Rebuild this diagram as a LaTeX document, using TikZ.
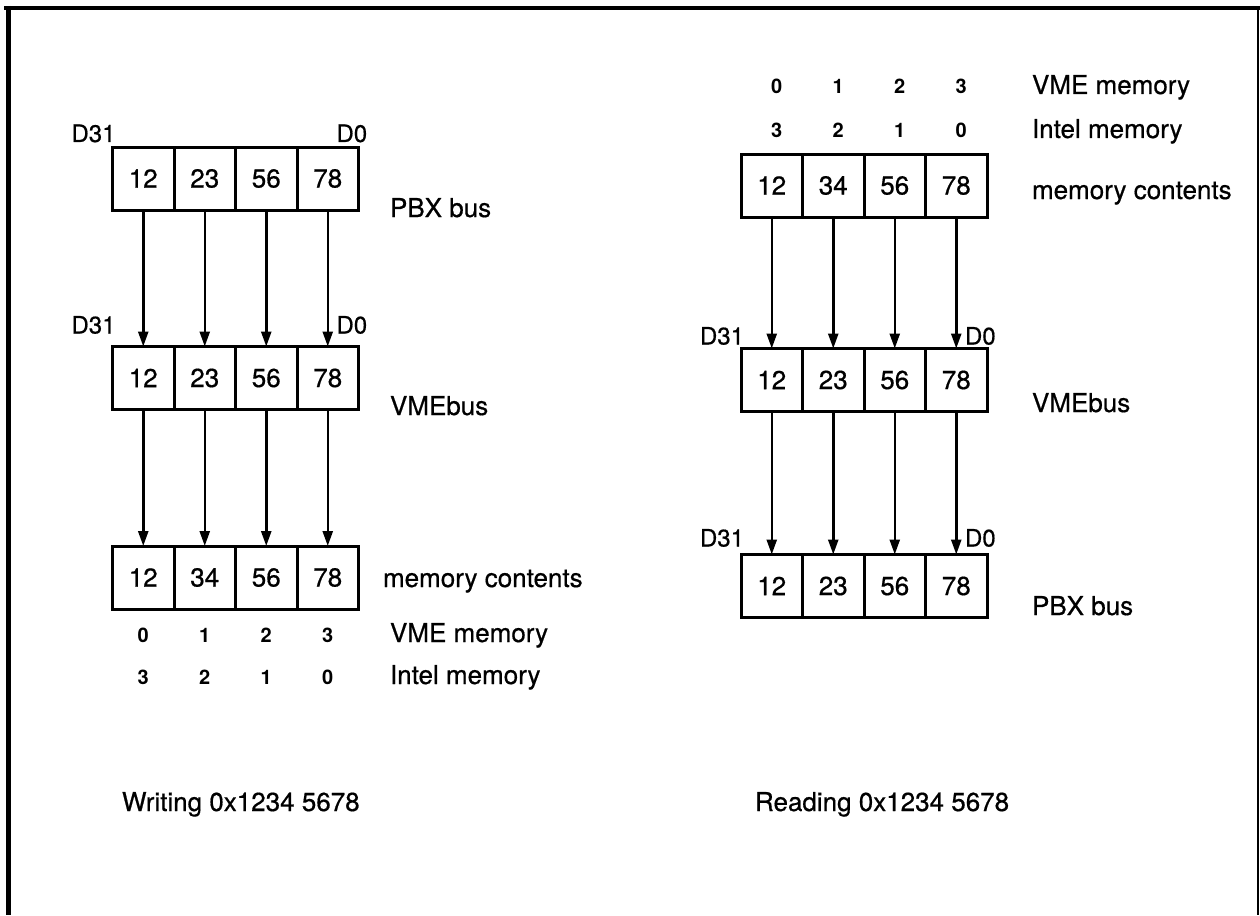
\documentclass[tikz,border=0pt]{standalone}
\usepackage{fontspec}
\setmainfont{TeX Gyre Heros}[UprightFeatures={FakeBold=0.6}]
\usetikzlibrary{positioning,arrows.meta}

\begin{document}
\begin{tikzpicture}[x=1pt, y=-1pt,
    every node/.style={font=\fontsize{26}{30}\selectfont, inner sep=0pt, outer sep=0pt},
    cell/.style={draw, line width=3pt, minimum width=61.5pt, minimum height=63pt},
    busname/.style={anchor=base west},
    pin/.style={font=\fontsize{24}{28}\selectfont},
    idx/.style={anchor=base, font=\fontsize{20}{22}\selectfont\bfseries},
    flow/.style={line width=2.5pt, -{Triangle[length=15pt,width=10pt]}}
  ]
  \useasboundingbox (0,0) rectangle (1260,915);
  \draw[line width=4pt] (4,8) -- (1260,8);
  \draw[line width=5pt] (8,6) -- (8,915);
  \draw[line width=2pt] (1258,8) -- (1258,915);

  \foreach \row/\x/\y/\a/\b/\c/\d in {wpbx/112.5/178.5/12/23/56/78, wvme/112.5/378/12/23/56/78,
      wmem/112.5/577.5/12/34/56/78, rmem/741/185.5/12/34/56/78,
      rvme/741/380/12/23/56/78, rpbx/741/586/12/23/56/78}{
    \node[cell, anchor=west] (\row1) at (\x,\y) {\a};
    \node[cell, right=0pt of \row1] (\row2) {\b};
    \node[cell, right=0pt of \row2] (\row3) {\c};
    \node[cell, right=0pt of \row3] (\row4) {\d};
  }

  \foreach \row/\gap in {wpbx/5, wvme/13, rvme/4, rpbx/8}{
    \node[pin, anchor=base east] (\row-hi) at ([xshift=3pt,yshift=\gap pt]\row1.north west) {D31};
    \node[pin, anchor=base west] (\row-lo) at ([xshift=-22pt,yshift=\gap pt]\row4.north east) {D0};
  }

  \foreach \i in {1,...,4}{
    \draw[flow] (wpbx\i) -- (wvme\i);
    \draw[flow] (wvme\i) -- (wmem\i);
    \draw[flow] (rmem\i) -- (rvme\i);
    \draw[flow] (rvme\i) -- (rpbx\i);
  }

  \node[busname] (wpbxname) at (390,217) {PBX bus};
  \node[busname] (wvmename) at (390,415) {VMEbus};
  \node[busname] (wmemname) at (383,587) {memory contents};
  \node[busname] (wvmemem) at (390,642) {VME memory};
  \node[busname] (wintel) at (390,684) {Intel memory};

  \node[busname] (rvmemem) at (1032,94) {VME memory};
  \node[busname] (rintel) at (1032,138) {Intel memory};
  \node[busname] (rmemname) at (1032,199) {memory contents};
  \node[busname] (rvmename) at (1032,412) {VMEbus};
  \node[busname] (rpbxname) at (1032,615) {PBX bus};

  \foreach \i/\v/\n in {1/0/3, 2/1/2, 3/2/1, 4/3/0}{
    \node[idx] (wv\i) at (wmem\i |- wvmemem.base) {\v};
    \node[idx] (wi\i) at (wmem\i |- wintel.base) {\n};
    \node[idx, xshift=5pt] (rv\i) at (rmem\i |- rvmemem.base) {\v};
    \node[idx, xshift=5pt] (ri\i) at (rmem\i |- rintel.base) {\n};
  }

  \node[busname] (wtitle) at (122,811) {Writing 0x1234 5678};
  \node[busname] (rtitle) at (755,811) {Reading 0x1234 5678};
\end{tikzpicture}
\end{document}
